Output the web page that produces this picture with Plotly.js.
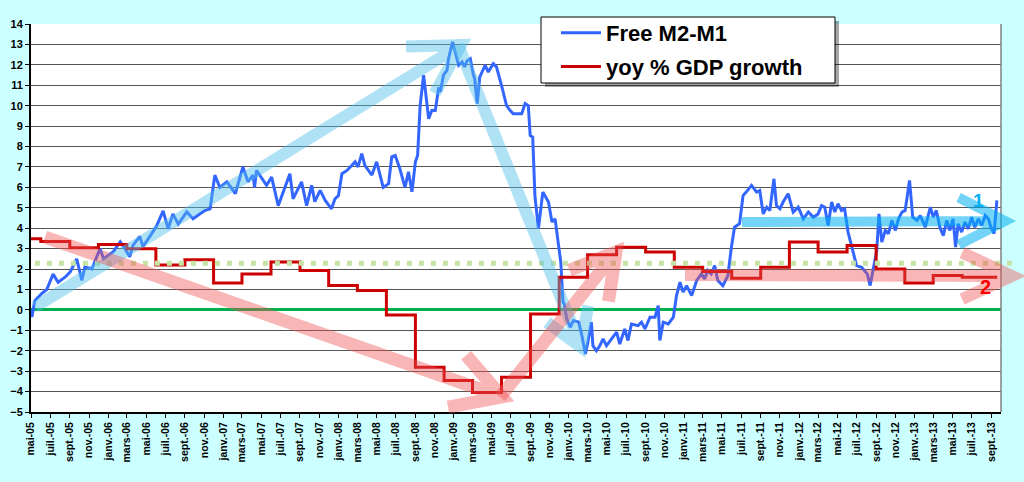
<!DOCTYPE html>
<html>
<head>
<meta charset="utf-8">
<script src="https://cdn.plot.ly/plotly-3.0.1.min.js"></script>
<style>
  html, body { margin: 0; padding: 0; background: #ccffff; }
  #chart { width: 1024px; height: 482px; }
</style>
</head>
<body>
<div id="chart"></div>
<script>
// Free M2-M1 (weekly-ish readings)
const m2m1Dates = [
  '2005-05-01','2005-05-04','2005-05-13','2005-06-04','2005-06-20','2005-07-10','2005-07-26','2005-08-17','2005-09-02','2005-09-23','2005-10-09','2005-10-19','2005-11-10','2005-12-06','2005-12-17',
  '2006-01-01','2006-01-17','2006-02-08','2006-02-23','2006-03-10','2006-03-20','2006-04-11','2006-04-21','2006-05-13','2006-06-03','2006-06-24','2006-07-10','2006-07-25','2006-08-11','2006-09-07','2006-09-27','2006-10-18','2006-11-04','2006-11-20','2006-12-05','2006-12-21',
  '2007-01-12','2007-02-08','2007-03-04','2007-03-20','2007-04-05','2007-04-10','2007-04-16','2007-05-18','2007-06-03','2007-06-24','2007-07-09','2007-07-31','2007-08-10','2007-09-06','2007-09-22','2007-10-08','2007-10-18','2007-11-04','2007-11-20','2007-12-10','2007-12-21',
  '2008-01-01','2008-01-12','2008-01-28','2008-02-23','2008-03-03','2008-03-15','2008-03-25','2008-04-16','2008-05-01','2008-05-22','2008-06-08','2008-06-18','2008-06-29','2008-07-14','2008-07-30','2008-08-10','2008-08-21','2008-09-01','2008-09-08','2008-09-16','2008-09-27','2008-10-13','2008-10-23','2008-11-03','2008-11-14','2008-11-19','2008-11-29','2008-12-10','2008-12-15','2008-12-28',
  '2009-01-06','2009-01-16','2009-01-27','2009-02-04','2009-02-12','2009-02-22','2009-03-03','2009-03-08','2009-03-16','2009-03-24','2009-04-10','2009-04-20','2009-05-06','2009-05-16','2009-06-01','2009-06-17','2009-06-28','2009-07-08','2009-07-19','2009-08-04','2009-08-15','2009-08-25','2009-08-31','2009-09-08','2009-09-15','2009-09-26','2009-10-10','2009-10-28','2009-11-08','2009-11-18','2009-11-29','2009-12-06','2009-12-13','2009-12-17','2009-12-25',
  '2010-01-05','2010-01-15','2010-02-01','2010-02-11','2010-02-22','2010-03-02','2010-03-13','2010-03-18','2010-03-29','2010-04-09','2010-04-19','2010-04-30','2010-05-15','2010-06-01','2010-06-11','2010-06-27','2010-07-07','2010-07-18','2010-08-08','2010-08-19','2010-08-30','2010-09-15','2010-10-01','2010-10-11','2010-10-16','2010-10-27','2010-11-12','2010-11-28','2010-12-08','2010-12-19','2010-12-29',
  '2011-01-09','2011-01-25','2011-02-10','2011-02-25','2011-03-07','2011-03-17','2011-03-28','2011-04-08','2011-04-18','2011-05-04','2011-05-20','2011-05-31','2011-06-10','2011-06-26','2011-07-07','2011-07-17','2011-08-03','2011-08-19','2011-08-29','2011-09-09','2011-09-20','2011-09-30','2011-10-13','2011-10-21','2011-11-01','2011-11-11','2011-11-27','2011-12-13','2011-12-29',
  '2012-01-14','2012-01-30','2012-02-15','2012-03-01','2012-03-12','2012-03-22','2012-04-02','2012-04-13','2012-04-23','2012-05-03','2012-05-14','2012-05-24','2012-06-04','2012-06-15','2012-07-01','2012-07-17','2012-07-27','2012-08-04','2012-08-13','2012-08-23','2012-09-03','2012-09-10','2012-09-19','2012-09-30','2012-10-10','2012-10-21','2012-11-01','2012-11-11','2012-11-22','2012-12-02','2012-12-16','2012-12-26',
  '2013-01-09','2013-01-19','2013-02-04','2013-02-20','2013-03-01','2013-03-11','2013-03-22','2013-04-02','2013-04-13','2013-04-23','2013-05-03','2013-05-11','2013-05-19','2013-05-30','2013-06-10','2013-06-20','2013-07-01','2013-07-11','2013-07-22','2013-08-02','2013-08-13','2013-08-23','2013-08-31','2013-09-10','2013-09-19'
];
const m2m1Values = [
  0.0,-0.35,0.45,0.8,1.0,1.75,1.35,1.6,1.85,2.5,1.45,2.1,2.0,3.0,2.5,
  2.65,2.85,3.33,3.0,2.6,3.15,3.6,3.1,3.6,4.1,4.85,3.97,4.7,4.2,4.8,4.46,4.7,4.87,4.95,6.6,6.0,
  6.27,5.7,7.0,6.27,6.6,6.0,6.83,6.1,6.5,5.1,5.78,6.67,5.44,6.27,5.1,6.1,5.3,5.85,5.36,4.95,5.44,
  5.6,6.67,6.83,7.25,7.0,7.65,7.07,6.6,7.25,6.0,6.18,7.5,7.56,6.9,6.0,6.76,5.78,7.25,7.56,10.0,11.5,9.36,9.77,9.77,10.9,10.67,11.5,11.73,12.3,13.12,
  12.6,11.98,12.14,11.9,12.2,12.3,11.57,11.32,10.1,11.4,11.98,11.65,12.06,11.9,11.0,10.0,9.77,9.6,9.6,9.6,10.1,10.0,8.54,8.46,5.6,3.97,5.77,5.28,4.3,4.46,3.15,2.34,0.38,0.3,-0.44,
  -0.85,-0.52,-0.6,-1.26,-2.16,-1.57,-0.6,-1.75,-2.0,-1.75,-1.42,-1.75,-1.42,-1.09,-1.67,-0.93,-1.5,-0.69,-0.77,-0.6,-0.93,-0.36,-0.36,0.21,-1.5,-0.6,-0.69,-0.36,0.7,1.36,0.87,
  1.19,0.7,1.44,1.76,1.52,1.93,1.76,2.17,1.44,1.19,1.68,3.07,4.05,4.22,5.6,5.77,6.1,5.77,5.85,4.7,5.03,4.87,6.42,5.11,4.95,5.28,5.69,4.79,5.03,
  4.46,4.79,4.54,4.7,5.11,5.03,4.13,5.28,4.79,5.2,4.87,4.95,3.81,3.15,2.17,2.09,1.93,1.76,1.19,2.09,2.9,4.7,3.32,3.89,3.73,4.38,3.89,4.46,4.79,4.87,6.34,4.54,
  4.38,4.62,4.05,5.03,4.54,4.87,4.05,3.64,4.38,3.89,4.46,3.07,4.22,3.81,4.3,3.97,4.54,4.05,4.46,4.13,4.62,4.46,4.05,3.73,5.36
];

// yoy % GDP growth (quarterly steps)
const gdpDates = [
  '2005-05-01','2005-06-01','2005-09-01','2005-12-01','2006-03-01','2006-06-01','2006-09-01','2006-12-01',
  '2007-03-01','2007-06-01','2007-09-01','2007-12-01','2008-03-01','2008-06-01','2008-09-01','2008-12-01',
  '2009-03-01','2009-06-01','2009-09-01','2009-12-01','2010-03-01','2010-06-01','2010-09-01','2010-12-01',
  '2011-03-01','2011-06-01','2011-09-01','2011-12-01','2012-03-01','2012-06-01','2012-09-01','2012-12-01',
  '2013-03-01','2013-06-01','2013-09-20'
];
const gdpValues = [
  3.48,3.35,3.04,3.2,3.0,2.2,2.45,1.32,
  1.76,2.34,1.93,1.19,0.95,-0.25,-2.81,-3.46,
  -4.04,-3.3,-0.2,1.6,2.7,3.07,2.83,2.09,
  1.88,1.55,2.09,3.32,2.83,3.15,2.0,1.32,
  1.68,1.6,1.6
];

const trendLevel = 2.29;

// French month labels, every two months from mai-05 to sept.-13
const monthAbbr = ['janv.','févr.','mars','avr.','mai','juin','juil.','août','sept.','oct.','nov.','déc.'];
const tickDates = [];
const tickLabels = [];
for (let k = 0; k <= 100; k += 2) {
  const mi = 4 + k;
  const yr = 2005 + Math.floor(mi / 12);
  const mo = mi % 12;
  tickDates.push(yr + '-' + String(mo + 1).padStart(2, '0') + '-01');
  tickLabels.push(monthAbbr[mo] + '-' + String(yr).slice(2));
}

const font = 'Arial, "Liberation Sans", sans-serif';

// plot area in pixels (matches margins below)
const PL = 31, PT = 24, PW = 970, PH = 388;
const px = x => (x - PL) / PW;
const py = y => (PT + PH - y) / PH;
function P(x, y) {
  return px(x).toFixed(4) + ',' + py(y).toFixed(4);
}
// open arrow: shaft + two arms at the tip
function arrowPath(x0, y0, x1, y1, len, ang) {
  const d = Math.hypot(x1 - x0, y1 - y0);
  const bx = -(x1 - x0) / d, by = -(y1 - y0) / d;
  const r = ang * Math.PI / 180;
  const arm = s => {
    const c = Math.cos(s * r), sn = Math.sin(s * r);
    return P(x1 + (bx * c - by * sn) * len, y1 + (bx * sn + by * c) * len);
  };
  return 'M' + P(x0, y0) + ' L' + P(x1, y1) + ' M' + arm(1) + ' L' + P(x1, y1) + ' L' + arm(-1);
}

const cyan = 'rgba(80,190,235,0.45)';
const pink = 'rgba(240,80,80,0.42)';
const arrow = (path, color, w) => ({
  type: 'path', xref: 'paper', yref: 'paper', path: path,
  line: { color: color, width: w }, layer: 'above'
});

const trace1 = {
  x: m2m1Dates,
  y: m2m1Values,
  type: 'scatter',
  mode: 'lines',
  name: 'Free M2-M1',
  legendgroup: 'a',
  line: { color: '#3366ff', width: 3 }
};

const trace2 = {
  x: gdpDates,
  y: gdpValues,
  type: 'scatter',
  mode: 'lines',
  name: 'yoy % GDP growth',
  legendgroup: 'b',
  line: { color: '#cc0000', width: 3, shape: 'hv' }
};

const layout = {
  width: 1024,
  height: 482,
  margin: { l: PL, r: 1024 - PL - PW, t: PT, b: 482 - PT - PH, autoexpand: false },
  paper_bgcolor: '#ccffff',
  plot_bgcolor: '#ffffff',
  font: { family: font, color: '#000' },
  showlegend: true,
  legend: {
    x: px(556), y: py(12), xanchor: 'left', yanchor: 'top',
    bgcolor: 'rgba(0,0,0,0)', borderwidth: 0,
    font: { family: font, size: 22, weight: 'bold', color: '#000' },
    traceorder: 'grouped', tracegroupgap: 2,
    itemwidth: 40
  },
  xaxis: {
    type: 'date',
    range: ['2005-05-01', '2013-10-02'],
    tickmode: 'array',
    tickvals: tickDates,
    ticktext: tickLabels,
    tickangle: -90,
    tickfont: { family: font, size: 10.5, weight: 'bold', color: '#000' },
    ticks: 'outside', ticklen: 4, tickcolor: '#000',
    showgrid: false,
    showline: true, linecolor: '#000', linewidth: 2,
    zeroline: false,
    automargin: false
  },
  yaxis: {
    range: [-5, 14],
    dtick: 1,
    tick0: 0,
    tickfont: { family: font, size: 11, weight: 'bold', color: '#000' },
    ticks: 'outside', ticklen: 4, tickcolor: '#000',
    showgrid: true, gridcolor: '#555555', gridwidth: 1,
    showline: true, linecolor: '#000', linewidth: 2,
    zeroline: true, zerolinecolor: '#00b050', zerolinewidth: 3,
    automargin: false
  },
  shapes: [
    { type: 'line', xref: 'paper', yref: 'paper', x0: 1, x1: 1, y0: 0, y1: 1,
      line: { color: '#808080', width: 1.5 } },
    { type: 'line', xref: 'paper', yref: 'y', x0: 0.004, x1: 1.0144, y0: trendLevel, y1: trendLevel,
      line: { color: '#c4e3a4', width: 5, dash: '5px,7px' }, layer: 'above' },
    arrow(arrowPath(35, 307, 461, 45, 55, 30), cyan, 12),
    arrow(arrowPath(458, 45, 581, 347, 42, 32), cyan, 12),
    arrow(arrowPath(45, 237, 502, 397, 55, 30), pink, 13),
    arrow(arrowPath(500, 397, 616, 252, 50, 30), pink, 13),
    arrow(arrowPath(742, 222, 1005, 221, 52, 27), 'rgba(0,176,240,0.55)', 10),
    arrow(arrowPath(685, 275, 1012, 276, 55, 25), pink, 12),
    // legend box with shadow
    { type: 'rect', xref: 'paper', yref: 'paper', x0: px(545), x1: px(839), y0: py(87), y1: py(21),
      fillcolor: 'rgba(0,0,0,0.35)', line: { width: 0 }, layer: 'above' },
    { type: 'rect', xref: 'paper', yref: 'paper', x0: px(541), x1: px(835), y0: py(83), y1: py(17),
      fillcolor: '#ffffff', line: { color: '#000000', width: 1 }, layer: 'above' }
  ],
  annotations: [
    { xref: 'paper', yref: 'paper', x: px(986), y: py(200),
      text: '1', showarrow: false, font: { family: font, size: 19, weight: 'bold', color: '#00b0f0' } },
    { xref: 'paper', yref: 'paper', x: px(993), y: py(300),
      text: '2', showarrow: false, font: { family: font, size: 20, weight: 'bold', color: '#ff0000' } }
  ]
};

const config = { displayModeBar: false, responsive: false };

Plotly.newPlot('chart', [trace1, trace2], layout, config);
</script>
</body>
</html>
